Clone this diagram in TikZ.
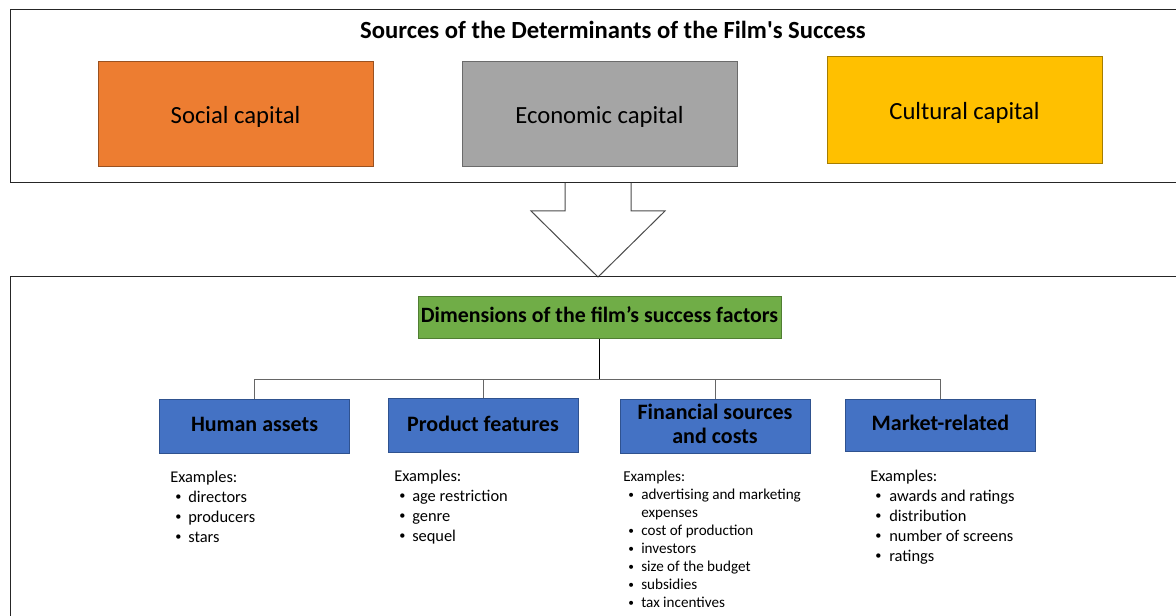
\documentclass[tikz,border=0pt]{standalone}
\usepackage{fontspec}
\setmainfont{Carlito}[Ligatures=TeXOff]
\usepackage{array}
\definecolor{socialorange}{HTML}{ED7D31}
\definecolor{econgray}{HTML}{A5A5A5}
\definecolor{culturegold}{HTML}{FFC000}
\definecolor{dimgreen}{HTML}{70AD47}
\definecolor{dimgreenline}{HTML}{507E32}
\definecolor{factorblue}{HTML}{4472C4}
\definecolor{factorblueline}{HTML}{2F528F}
\newcommand{\exitem}[1]{\hspace{3.75pt}\raisebox{0.2ex}{\scalebox{0.75}{\textbullet}} & #1\\}
\begin{document}
\begin{tikzpicture}[x=0.75pt,y=-0.75pt,
  frame/.style={draw=black!85,line width=0.75pt},
  capbox/.style={fill=#1,draw=#1!65!black,line width=0.75pt,
    minimum width=206.25pt,minimum height=78.75pt,inner sep=0pt,
    text depth=0pt,font=\fontsize{18.5}{22}\selectfont},
  dimbox/.style={fill=dimgreen,draw=dimgreenline,line width=0.75pt,
    minimum width=272.25pt,minimum height=31.5pt,inner sep=0pt,
    text depth=3pt,font=\fontsize{16.4}{19}\selectfont\bfseries},
  factor/.style={fill=factorblue,draw=factorblueline,line width=0.75pt,
    minimum width=142.5pt,minimum height=40.5pt,inner sep=0pt,align=center,
    text depth=2.6pt,font=\fontsize{16.5}{18}\selectfont\bfseries},
  exlist/.style={anchor=north west,inner sep=0pt,font=\fontsize{12.3}{15}\selectfont},
  exsmall/.style={anchor=north west,inner sep=0pt,font=\fontsize{11.35}{13.5}\selectfont},
  branch/.style={draw=black!60,line width=0.75pt},
  trunk/.style={draw=black,line width=1pt}]
\useasboundingbox (0,0) rectangle (1176,616);
\fill[white] (0,0) rectangle (1176,616);

% upper frame: sources of the determinants
\draw[frame] (10,10) rectangle (1190,183);
\node[font=\fontsize{18.5}{22}\selectfont\bfseries] (title) at (613,30)
  {Sources of the Determinants of the Film's Success};
\node[capbox=socialorange] (social) at (235.5,114.5) {Social capital};
\node[capbox=econgray] (econ) at (599.5,114.5) {Economic capital};
\node[capbox=culturegold,minimum height=80.25pt] (cult) at (964.5,110.5) {Cultural capital};

% block arrow between the frames
\draw[draw=black!70,line width=0.75pt,line join=miter]
  (565,183) -- (565,211) -- (531,211) -- (598,277) -- (665,211) -- (631,211) -- (631,183);

% lower frame: dimensions of the success factors
\draw[frame] (1190,277) -- (10,277) -- (10,630);
\node[dimbox] (dim) at (599.5,317) {Dimensions of the film’s success factors};

\node[factor] (human) at (254.5,426) {Human assets};
\node[factor] (product) at (483,425.5) {Product features};
\node[factor] (finance) at (715,426) {Financial sources\\and costs};
\node[factor,minimum height=39pt] (market) at (940.5,425) {Market-related};

\coordinate (bus) at (599.5,379);
\draw[branch] (bus) -| (human.north);
\draw[branch] (bus) -| (product.north);
\draw[branch] (bus) -| (finance.north);
\draw[branch] (bus) -| (market.north);
\draw[trunk] (dim.south) -- (bus);

% example lists under each factor
\node[exlist] (humanex) at (170,468) {\begin{tabular}{@{}p{13.5pt}@{}l@{}}
  \multicolumn{2}{@{}l@{}}{Examples:}\\
  \exitem{directors}
  \exitem{producers}
  \exitem{stars}
\end{tabular}};
\node[exlist] (productex) at (394,467) {\begin{tabular}{@{}p{13.5pt}@{}l@{}}
  \multicolumn{2}{@{}l@{}}{Examples:}\\
  \exitem{age restriction}
  \exitem{genre}
  \exitem{sequel}
\end{tabular}};
\node[exsmall] (financeex) at (623,469) {\begin{tabular}{@{}p{13.5pt}@{}l@{}}
  \multicolumn{2}{@{}l@{}}{Examples:}\\
  \exitem{advertising and marketing}
  & expenses\\
  \exitem{cost of production}
  \exitem{investors}
  \exitem{size of the budget}
  \exitem{subsidies}
  \exitem{tax incentives}
\end{tabular}};
\node[exlist] (marketex) at (870,467) {\begin{tabular}{@{}p{14.25pt}@{}l@{}}
  \multicolumn{2}{@{}l@{}}{Examples:}\\
  \exitem{awards and ratings}
  \exitem{distribution}
  \exitem{number of screens}
  \exitem{ratings}
\end{tabular}};
\end{tikzpicture}
\end{document}
